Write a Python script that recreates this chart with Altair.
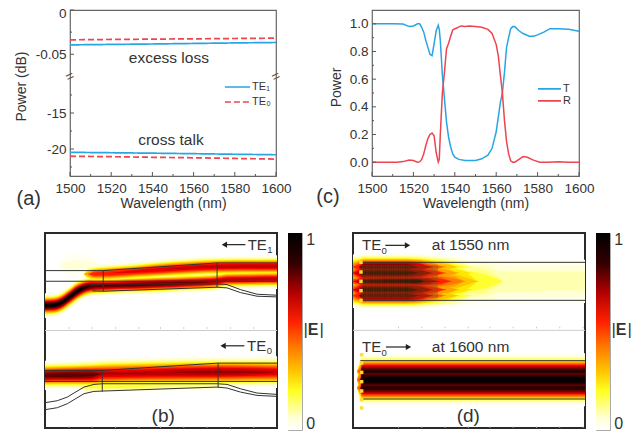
import math
import altair as alt
import pandas as pd

FONT = "Liberation Sans"
INK = "#333333"
BLUE = "#27a6e2"
RED = "#ee4450"

# ---------- panel (a) ----------
a_wave = [1500, 1520, 1540, 1560, 1580, 1600]
a_te1_loss = [-0.0394, -0.0389, -0.0384, -0.0378, -0.0372, -0.0367]
a_te0_loss = [-0.0337, -0.0333, -0.0329, -0.0326, -0.0322, -0.0318]
a_te1_xt = [-20.46, -20.52, -20.58, -20.65, -20.73, -20.80]
a_te0_xt = [-21.00, -21.07, -21.15, -21.22, -21.31, -21.40]
a_y_domain = [-23.75, -10, -0.0757, 0]
a_y_range = [166, 67.01, 67, 0]
a_y_major = [0, -0.05, -15, -20]
a_y_minor = [-0.025, -12.5, -17.5, -22.5]
x_major = [1500, 1520, 1540, 1560, 1580, 1600]
x_minor = [1510, 1530, 1550, 1570, 1590]

# ---------- panel (c) ----------
t_wave = [1500, 1510, 1515, 1518, 1520, 1522, 1523, 1524, 1525, 1526, 1527, 1528, 1529, 1530, 1531, 1532, 1532.5, 1533,
          1534, 1535, 1536, 1537, 1538, 1539, 1540, 1542, 1545, 1550, 1553, 1556, 1558, 1560, 1562, 1563, 1564, 1565,
          1566, 1567, 1568, 1569, 1571, 1573, 1576, 1578, 1580, 1583, 1586, 1590, 1595, 1600]
t_vals = [1.0, 1.0, 0.998, 0.98, 0.985, 1.0, 1.0, 0.975, 0.94, 0.88, 0.83, 0.78, 0.77, 0.855, 0.95, 0.99, 0.96, 0.88,
          0.63, 0.46, 0.29, 0.18, 0.11, 0.06, 0.036, 0.02, 0.012, 0.012, 0.024, 0.05, 0.1, 0.22, 0.43, 0.5, 0.65, 0.83,
          0.9, 0.965, 0.98, 0.98, 0.95, 0.93, 0.91, 0.91, 0.92, 0.94, 0.965, 0.965, 0.96, 0.947]
r_wave = [1500, 1512, 1515, 1518, 1520, 1522, 1523, 1524, 1525, 1526, 1527, 1528, 1529, 1530, 1531, 1532, 1532.5, 1533,
          1534, 1535, 1536, 1537, 1538, 1539, 1540, 1541, 1543, 1545, 1547, 1550, 1553, 1556, 1558, 1560, 1561, 1562,
          1563, 1564, 1565, 1566, 1567, 1568, 1569, 1571, 1573, 1575, 1578, 1581, 1585, 1590, 1595, 1600]
r_vals = [0, 0, 0.004, 0.015, 0.012, 0, 0.002, 0.02, 0.06, 0.12, 0.17, 0.2, 0.21, 0.19, 0.07, 0, 0.02, 0.2,
          0.5, 0.65, 0.82, 0.86, 0.91, 0.955, 0.965, 0.97, 0.985, 0.98, 0.985, 0.98, 0.975, 0.96, 0.93, 0.85, 0.77, 0.63,
          0.5, 0.3, 0.15, 0.06, 0.01, 0, 0, 0.02, 0.04, 0.035, 0.015, 0, 0, 0.003, 0, 0]
c_y_major = [0, 0.2, 0.4, 0.6, 0.8, 1.0]
c_y_minor = [0.1, 0.3, 0.5, 0.7, 0.9]

# ---------- field maps: colour levels of |E| ----------
levels = [0.03, 0.06, 0.10, 0.14, 0.19, 0.24, 0.30, 0.36, 0.42, 0.48, 0.55, 0.62, 0.69, 0.76, 0.83, 0.90, 0.96]
level_colors = ["#fffff2", "#ffffd8", "#ffffb0", "#ffff80", "#ffff30", "#ffe600", "#ffc400", "#ff9f00", "#ff7a00",
                "#ff5000", "#ff2000", "#e80000", "#c00000", "#900000", "#5c0000", "#2a0000", "#060000"]
bar_offsets = [0, 0.06, 0.2, 0.3, 0.42, 0.55, 0.7, 0.85, 1]
bar_colors = ["#ffffff", "#ffffd8", "#ffff20", "#ffc400", "#ff7a00", "#ff2000", "#b00000", "#300000", "#000000"]

# lobes: x positions, centre, peak, width -- panel (b)
b_lobes = [
    ([175, 210, 250, 300], [140, 140, 140, 140], [0, 0.07, 0.07, 0], [28, 28, 28, 28]),
    ([133, 160, 190, 210, 230, 250, 270, 308, 400, 480, 560, 650, 680, 830],
     [260, 259, 247, 232, 217, 207, 202, 201, 198, 195, 192, 187, 182, 180],
     [1.0, 1.0, 1.0, 1.0, 1.0, 0.97, 0.9, 0.85, 0.88, 0.88, 0.84, 0.76, 0.72, 0.72],
     [14, 14, 14, 14, 14, 13, 13, 12, 12, 12, 12, 12, 12, 12]),
    ([250, 262, 280, 308, 400, 480, 560, 650, 830],
     [165, 165, 165, 164, 158, 152, 147, 143, 142],
     [0, 0.4, 0.6, 0.62, 0.65, 0.68, 0.7, 0.72, 0.72],
     [9, 10, 11, 12, 12, 13, 13, 13, 13]),
    ([133, 200, 270, 308, 480, 650, 830], [470, 469, 468, 465, 462, 460, 460],
     [0.85, 0.88, 0.86, 0.72, 0.74, 0.78, 0.7], [17, 17, 18, 19, 19, 19, 19]),
    ([240, 260, 308, 480, 650, 672], [510, 505, 503, 500, 498, 498],
     [0.0, 0.2, 0.24, 0.2, 0.15, 0.0], [9, 9, 9, 9, 9, 9]),
]

# lobes -- panel (d)
d_fade_a = [68, 85, 100, 230, 270, 310, 350, 390, 430, 470]
d_peak_edge = [0.45, 0.62, 0.88, 0.88, 0.74, 0.5, 0.34, 0.2, 0.1, 0.0]
d_peak_inner = [0.5, 0.7, 0.93, 0.93, 0.82, 0.6, 0.42, 0.28, 0.15, 0.05]
d_lobes = [
    ([300, 420, 500, 766], [185, 185, 185, 185], [0.2, 0.18, 0.14, 0.13], [34, 38, 38, 38]),
    (d_fade_a, [142] * 10, d_peak_edge, [16] * 10),
    (d_fade_a, [160] * 10, d_peak_inner, [17] * 10),
    (d_fade_a, [210] * 10, d_peak_inner, [17] * 10),
    (d_fade_a, [228] * 10, d_peak_edge, [16] * 10),
    ([68, 85, 100, 260, 290, 330, 370, 410, 450, 520], [185] * 10,
     [0.55, 0.7, 0.95, 1.0, 0.8, 0.6, 0.45, 0.32, 0.24, 0.12], [11, 11, 11, 11, 14, 18, 24, 30, 36, 38]),
    ([80, 90, 96, 766], [455] * 4, [0, 0.5, 0.93, 0.93], [20] * 4),
    ([80, 90, 96, 766], [505] * 4, [0, 0.5, 0.93, 0.93], [20] * 4),
    ([80, 90, 96, 766], [480] * 4, [0, 0.5, 1.0, 1.0], [30] * 4),
]
d_stripes = [96, 103, 110, 117, 124, 131, 138, 145, 152, 159, 166, 173, 180, 187, 194, 201, 208, 215, 222, 229, 236,
             243, 250, 257, 264, 271, 278, 285, 292, 299, 306, 313, 320]
d_dots_top = [128, 157, 185, 213, 242]
d_dots_bottom = [405, 430, 458, 486, 514, 540, 565]

# waveguide outlines -- panel (b)
b_paths = [
    ([133, 308, 650, 830], [155, 155, 132, 132]),
    ([133, 830], [187, 187]),
    ([308, 308], [155, 217]),
    ([650, 650], [132, 205]),
    ([270, 308, 650, 680, 720, 770, 830], [197, 195, 195, 197, 212, 226, 229]),
    ([275, 308, 650, 680, 720, 770, 830], [216, 217, 205, 207, 221, 232, 234]),
    ([133, 305, 653, 830], [455, 455, 433, 433]),
    ([133, 830], [488, 488]),
    ([305, 305], [455, 519]),
    ([653, 653], [433, 507]),
    ([133, 170, 200, 250, 280, 305, 650, 680, 720, 770, 830], [552, 546, 535, 505, 497, 495, 495, 497, 510, 523, 527]),
    ([133, 170, 200, 250, 280, 305, 650, 680, 720, 770, 830], [573, 567, 555, 525, 518, 517, 505, 508, 520, 530, 533]),
]
d_lines = [([90, 766], [128, 128]), ([90, 766], [242, 242]), ([90, 766], [423, 423]), ([90, 766], [538, 538])]
map_ticks = [205, 275, 345, 415, 480, 550, 620, 690, 760]


def spacer(w, h):
    return (alt.Chart(pd.DataFrame({"v": [0]})).mark_point(opacity=0)
            .encode(x=alt.value(0), y=alt.value(0))
            .properties(width=w, height=h, view=alt.ViewBackground(stroke="transparent")))


def note(text, x, y, xs, ys, size, align="center", color=INK, weight="normal", angle=0):
    mark = dict(fontSize=size, font=FONT, align=align, baseline="middle", color=color, fontWeight=weight)
    if angle:
        mark["angle"] = angle
    return (alt.Chart(pd.DataFrame({"x": [x], "y": [y], "t": [text]})).mark_text(**mark)
            .encode(x=alt.X("x:Q", scale=xs, axis=None), y=alt.Y("y:Q", scale=ys, axis=None), text="t:N"))


def mode_label(sub, x, y, xs, ys):
    return [note("TE", x, y, xs, ys, 15, align="left"),
            note(sub, x + 59, y + 17, xs, ys, 9.5, align="left")]


def key_entry(x0, x1, y, color, dash, label, xs, ys):
    line = alt.Chart(pd.DataFrame({"x": [x0], "x2": [x1], "y": [y]})).mark_rule(
        color=color, strokeWidth=1.6, strokeDash=dash).encode(
        x=alt.X("x:Q", scale=xs, axis=None), x2="x2:Q", y=alt.Y("y:Q", scale=ys, axis=None))
    return [line, note(label, x1 + 1, y, xs, ys, 11, align="left")]


def ticks(xs, ys, xmaj, xmin, ymaj, ymin, h):
    out = []
    for vals, size in ((xmaj, 4), (xmin, 2)):
        out.append(alt.Chart(pd.DataFrame({"x": vals})).mark_rule(color="#555555", strokeWidth=1).encode(
            x=alt.X("x:Q", scale=xs, axis=None), y=alt.value(h), y2=alt.value(h - size)))
    for vals, size in ((ymaj, 4), (ymin, 2)):
        out.append(alt.Chart(pd.DataFrame({"y": vals})).mark_rule(color="#555555", strokeWidth=1).encode(
            y=alt.Y("y:Q", scale=ys, axis=None), x=alt.value(0), x2=alt.value(size)))
    return out


def axis_x():
    return alt.Axis(values=x_major, ticks=False, domain=False, grid=False, labelFont=FONT, labelFontSize=13.5,
                    labelColor=INK, labelPadding=5, labelOverlap=False, labelFlush=False,
                    title="Wavelength (nm)", titleFont=FONT, titleFontSize=14,
                    titleFontWeight="normal", titleColor=INK, titlePadding=2, format="d")


def axis_y(title, vals, expr, tx, ty, **extra):
    return alt.Axis(values=vals, ticks=False, domain=False, grid=False, labelFont=FONT, labelFontSize=13.5,
                    labelColor=INK, labelPadding=4, labelOverlap=False, labelFlush=False, labelExpr=expr,
                    title=title, titleFont=FONT, titleFontSize=14,
                    titleFontWeight="normal", titleColor=INK, titleX=tx, titleY=ty, **extra)


# ---------- build (a) ----------
ax = alt.Scale(domain=[1500, 1600], nice=False, zero=False)
ay = alt.Scale(domain=a_y_domain, range=a_y_range, nice=False, zero=False)
rows = []
for part, name, vals in (("l", "TE\u2081", a_te1_loss), ("l", "TE\u2080", a_te0_loss),
                         ("x", "TE\u2081", a_te1_xt), ("x", "TE\u2080", a_te0_xt)):
    rows += [{"x": w, "y": v, "s": name, "p": part + name} for w, v in zip(a_wave, vals)]
names = ["TE\u2081", "TE\u2080"]
a_lines = alt.Chart(pd.DataFrame(rows)).mark_line(strokeWidth=1.7).encode(
    x=alt.X("x:Q", scale=ax, axis=axis_x()),
    y=alt.Y("y:Q", scale=ay, axis=axis_y(
        "Power (dB)", a_y_major, "datum.value", -42, 76,
        labelOffset={"condition": {"test": "datum.value === 0", "value": 3}, "value": 0})),
    detail="p:N",
    color=alt.Color("s:N", scale=alt.Scale(domain=names, range=[BLUE, RED]), legend=None),
    strokeDash=alt.StrokeDash("s:N", scale=alt.Scale(domain=names, range=[[1, 0], [6, 3]]), legend=None),
)
panel_a = alt.layer(
    a_lines, *ticks(ax, ay, x_major, x_minor, a_y_major, a_y_minor, 166),
    *key_entry(1575.2, 1587.4, -11.39, BLUE, [1, 0], "TE\u2081", ax, ay),
    *key_entry(1575.2, 1587.4, -13.47, RED, [6, 3], "TE\u2080", ax, ay),
    note("excess loss", 1548, -0.0537, ax, ay, 15.5),
    note("cross talk", 1549, -18.75, ax, ay, 15.5),
    note("=", 1500, -0.0757, ax, ay, 14, color="#555555", angle=335),
    note("=", 1600, -0.0757, ax, ay, 14, color="#555555", angle=335),
    note("(a)", 1480, -26.9, ax, ay, 20),
).resolve_axis(x="independent", y="independent").properties(width=206, height=166)

# ---------- build (c) ----------
cx = alt.Scale(domain=[1500, 1600], nice=False, zero=False)
cy = alt.Scale(domain=[-0.1, 1.1], nice=False, zero=False)
c_rows = [{"x": w, "y": v, "s": "T"} for w, v in zip(t_wave, t_vals)] + \
         [{"x": w, "y": v, "s": "R"} for w, v in zip(r_wave, r_vals)]
c_lines = alt.Chart(pd.DataFrame(c_rows)).mark_line(strokeWidth=1.5).encode(
    x=alt.X("x:Q", scale=cx, axis=axis_x()),
    y=alt.Y("y:Q", scale=cy, axis=axis_y("Power", c_y_major, "format(datum.value, '.1f')", -29, 77)),
    color=alt.Color("s:N", scale=alt.Scale(domain=["T", "R"], range=[BLUE, RED]), legend=None),
)
panel_c = alt.layer(
    c_lines, *ticks(cx, cy, x_major, x_minor, c_y_major, c_y_minor, 166),
    *key_entry(1580.2, 1591.3, 0.53, BLUE, [1, 0], "T", cx, cy),
    *key_entry(1580.2, 1591.3, 0.443, RED, [1, 0], "R", cx, cy),
    note("(c)", 1478.7, -0.25, cx, cy, 20),
).resolve_axis(x="independent", y="independent").properties(width=207, height=166)


# ---------- field maps ----------
def contour_rows(lobes):
    out = []
    for li, lc in enumerate(zip(levels, level_colors)):
        lev, col = lc
        for bi, (xs, cs, ps, ws) in enumerate(lobes):
            for x, c, p, w in zip(xs, cs, ps, ws):
                hw = w * math.sqrt(2 * math.log(p / lev)) if p > lev else 0
                out.append({"x": x, "y0": c - hw, "y1": c + hw, "col": col, "k": f"{li:02d}-{bi:02d}"})
    return pd.DataFrame(out)


def field(lobes, xs, ys):
    return alt.Chart(contour_rows(lobes)).mark_area(clip=True, interpolate="monotone").encode(
        x=alt.X("x:Q", scale=xs, axis=None), y=alt.Y("y0:Q", scale=ys, axis=None), y2="y1:Q",
        color=alt.Color("col:N", scale=None), detail="k:N")


def outlines(paths, xs, ys, color="#333333", width=1.0):
    rows = []
    for i, (px, py) in enumerate(paths):
        rows += [{"x": a, "y": b, "i": i, "o": j} for j, (a, b) in enumerate(zip(px, py))]
    return alt.Chart(pd.DataFrame(rows)).mark_line(color=color, strokeWidth=width, clip=True).encode(
        x=alt.X("x:Q", scale=xs, axis=None), y=alt.Y("y:Q", scale=ys, axis=None),
        detail="i:N", order="o:Q")


def arrow(x0, x1, y, xs, ys, left):
    df = pd.DataFrame({"x": [x0], "x2": [x1], "y": [y]})
    line = alt.Chart(df).mark_rule(color="#222222", strokeWidth=1.2).encode(
        x=alt.X("x:Q", scale=xs, axis=None), x2="x2:Q", y=alt.Y("y:Q", scale=ys, axis=None))
    tip = x0 if left else x1
    head = alt.Chart(pd.DataFrame({"x": [tip], "y": [y]})).mark_point(
        shape="triangle-left" if left else "triangle-right", filled=True, size=38, color="#222222", opacity=1
    ).encode(x=alt.X("x:Q", scale=xs, axis=None), y=alt.Y("y:Q", scale=ys, axis=None))
    return [line, head]


def map_frame_ticks(xs, ys, ylist):
    out = []
    for yv in ylist:
        out.append(alt.Chart(pd.DataFrame({"x": map_ticks, "y": [yv] * len(map_ticks), "y2": [yv - 5] * len(map_ticks)}))
                   .mark_rule(color="#bbbbbb", strokeWidth=0.8).encode(
            x=alt.X("x:Q", scale=xs, axis=None), y=alt.Y("y:Q", scale=ys, axis=None), y2="y2:Q"))
    return out


map_view = alt.ViewBackground(stroke="#2a2a2a", strokeWidth=2)
bx = alt.Scale(domain=[133, 830], nice=False, zero=False)
by = alt.Scale(domain=[628, 42], nice=False, zero=False)
panel_b = alt.layer(
    field(b_lobes, bx, by),
    outlines(b_paths, bx, by),
    outlines([([133, 830], [335, 335])], bx, by, color="#cccccc", width=1),
    *map_frame_ticks(bx, by, [330, 628]),
    *arrow(672, 735, 77, bx, by, True),
    *arrow(668, 732, 381, bx, by, True),
    *mode_label("1", 742, 77, bx, by),
    *mode_label("0", 740, 381, bx, by),
    note("(b)", 488, 592, bx, by, 19),
).properties(width=232, height=195, view=map_view)

dx = alt.Scale(domain=[68, 766], nice=False, zero=False)
dy = alt.Scale(domain=[625, 40], nice=False, zero=False)
stripes = alt.Chart(pd.DataFrame({"x": d_stripes, "y": [136] * len(d_stripes), "y2": [236] * len(d_stripes)})).mark_rule(
    color="#7a5a18", strokeWidth=2.2, opacity=0.38).encode(
    x=alt.X("x:Q", scale=dx, axis=None), y=alt.Y("y:Q", scale=dy, axis=None), y2="y2:Q")
dots = alt.Chart(pd.DataFrame({"y": d_dots_top + d_dots_bottom, "x": [92] * 5 + [94] * 7})).mark_square(
    color="#ffdd33", size=12, opacity=1).encode(
    x=alt.X("x:Q", scale=dx, axis=None), y=alt.Y("y:Q", scale=dy, axis=None))
panel_d = alt.layer(
    field(d_lobes, dx, dy),
    stripes,
    outlines(d_lines, dx, dy),
    outlines([([68, 766], [332, 332])], dx, dy, color="#cccccc", width=1),
    *map_frame_ticks(dx, dy, [326, 625]),
    dots,
    *arrow(165, 232, 77, dx, dy, False),
    *arrow(167, 235, 382, dx, dy, False),
    *mode_label("0", 95, 77, dx, dy),
    *mode_label("0", 95, 382, dx, dy),
    note("at 1550 nm", 305, 77, dx, dy, 15.5, align="left"),
    note("at 1600 nm", 305, 382, dx, dy, 15.5, align="left"),
    note("(d)", 415, 590, dx, dy, 19),
).properties(width=232, height=195, view=map_view)


def colorbar():
    sx = alt.Scale(domain=[0, 1], nice=False, zero=False)
    sy = alt.Scale(domain=[0, 1], nice=False, zero=False)
    grad = alt.LinearGradient(gradient="linear", x1=0, x2=0, y1=1, y2=0,
                              stops=[alt.GradientStop(color=c, offset=o) for c, o in zip(bar_colors, bar_offsets)])
    bar = alt.Chart(pd.DataFrame({"x": [0], "x2": [1], "y": [0], "y2": [1]})).mark_rect(fill=grad).encode(
        x=alt.X("x:Q", scale=sx, axis=None), x2="x2:Q", y=alt.Y("y:Q", scale=sy, axis=None), y2="y2:Q")
    return alt.layer(
        bar,
        note("1", 1.3, 0.965, sx, sy, 16, align="left"),
        note("0", 1.3, 0.03, sx, sy, 16, align="left"),
        note("|", 1.1, 0.51, sx, sy, 17, align="left"),
        note("E", 1.8, 0.51, sx, sy, 16, weight="bold"),
        note("|", 2.25, 0.51, sx, sy, 17, align="left"),
    ).properties(width=14, height=197, view=alt.ViewBackground(stroke="#aaaaaa", strokeWidth=1))


row1 = alt.hconcat(spacer(25, 166), panel_a, spacer(96, 166), panel_c, spacing=0, bounds="flush")
row2 = alt.hconcat(panel_b, colorbar(), spacer(29, 195), panel_d, colorbar(), spacing=11, bounds="flush")
chart = alt.vconcat(row1, row2, spacing=223, bounds="flush").properties(
    padding={"left": 5, "top": -3, "right": 0, "bottom": 0}
).resolve_scale(color="independent", strokeDash="independent").configure_view(
    stroke="#666666", strokeWidth=1.2
)

chart.save("out.html", embed_options={"renderer": "svg", "actions": False})
